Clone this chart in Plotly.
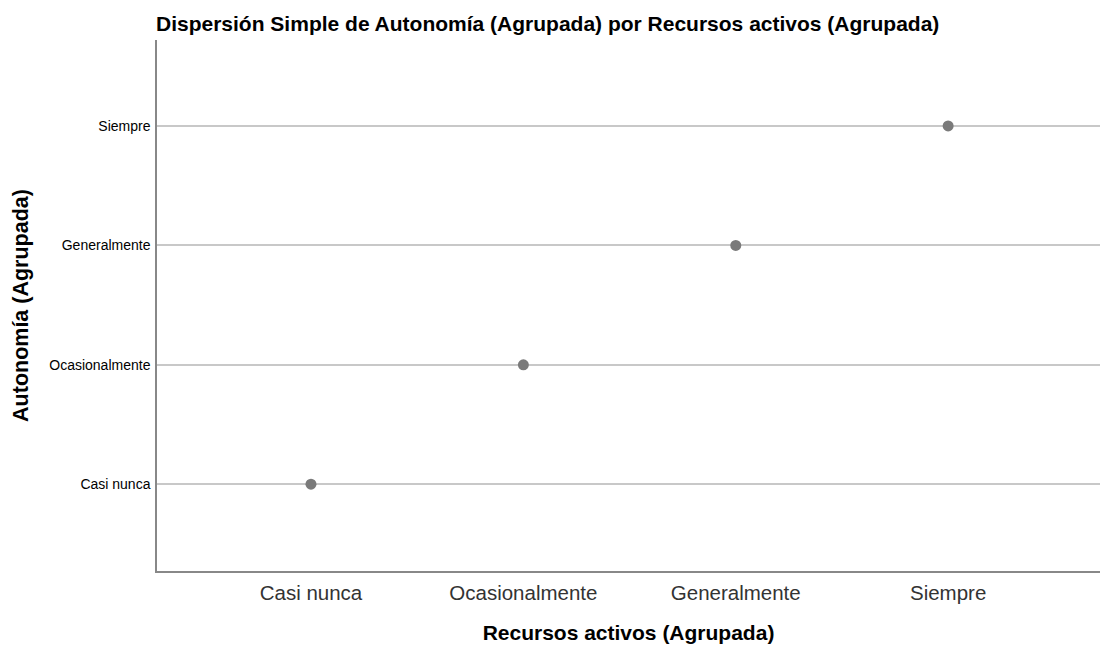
import plotly.graph_objects as go

categories = ["Casi nunca", "Ocasionalmente", "Generalmente", "Siempre"]
x_values = ["Casi nunca", "Ocasionalmente", "Generalmente", "Siempre"]
y_values = ["Casi nunca", "Ocasionalmente", "Generalmente", "Siempre"]

FONT = "Liberation Sans, Arial, sans-serif"

fig = go.Figure()
fig.add_trace(go.Scatter(
    x=x_values, y=y_values, mode="markers",
    marker=dict(color="#7a7a7a", size=11, line=dict(width=0)),
    showlegend=False, hoverinfo="x+y",
))

fig.update_layout(
    width=1100, height=648,
    margin=dict(l=157, r=0, t=40, b=77),
    paper_bgcolor="white", plot_bgcolor="white",
    font=dict(family=FONT, color="#000000"),
    title=dict(
        text="<b>Dispersión Simple de Autonomía (Agrupada) por Recursos activos (Agrupada)</b>",
        x=156/1100, xanchor="left", y=1-24/648, yanchor="middle",
        font=dict(size=21, family=FONT, color="#000000"),
    ),
    xaxis=dict(
        type="category", categoryorder="array", categoryarray=categories,
        range=[-0.725, 3.715],
        showgrid=False, zeroline=False,
        showline=True, linecolor="#888888", linewidth=1.5,
        ticks="", ticklabelstandoff=3,
        tickfont=dict(size=20.5, color="#333333", family=FONT),
        title=dict(text="<b>Recursos activos (Agrupada)</b>",
                   font=dict(size=21, family=FONT, color="#000000"), standoff=22),
    ),
    yaxis=dict(
        type="category", categoryorder="array", categoryarray=categories,
        range=[-0.727, 3.72],
        showgrid=True, gridcolor="#c8c8c8", gridwidth=2,
        zeroline=False,
        showline=True, linecolor="#888888", linewidth=1.5,
        ticks="", ticklabelstandoff=2,
        tickfont=dict(size=14, color="#000000", family=FONT),
        title=dict(text="<b>Autonomía (Agrupada)</b>",
                   font=dict(size=21.5, family=FONT, color="#000000"), standoff=15),
    ),
)

fig.write_html(
    "out.html",
    config={"displayModeBar": False},
    post_script="document.body.style.margin='0';document.body.style.overflow='hidden';",
)
